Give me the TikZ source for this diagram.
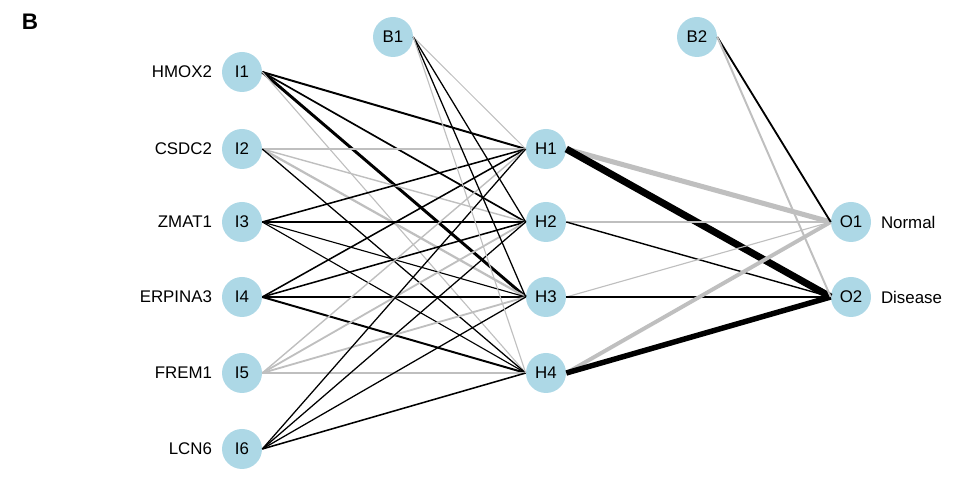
\documentclass[tikz,border=0pt]{standalone}
\usepackage{fontspec}
\setmainfont{Liberation Sans}
\usepackage{tikz}
\definecolor{lightblue}{HTML}{ADD8E6}

\begin{document}
\begin{tikzpicture}[auto]
        \tikzstyle{neuron} = [circle, fill=lightblue, minimum size=1cm, inner sep=0pt, font=\fontsize{12}{14}\selectfont]
        \tikzstyle{plus} = [draw=black]
        \tikzstyle{minus} = [draw=gray!50]
        \tikzstyle{tag} = [font=\fontsize{12}{14}\selectfont, label distance=0.12cm]
        \useasboundingbox (0,0) rectangle (24.05,12.275);
        \node[font=\fontsize{16}{18}\selectfont\bfseries] (title) at (0.75,11.725) {B};
        \node[neuron, label={[tag]left:HMOX2}] (I1) at (6.05,10.475) {I1};
        \node[neuron, label={[tag]left:CSDC2}] (I2) at (6.05,8.55) {I2};
        \node[neuron, label={[tag]left:ZMAT1}] (I3) at (6.05,6.725) {I3};
        \node[neuron, label={[tag]left:ERPINA3}] (I4) at (6.05,4.85) {I4};
        \node[neuron, label={[tag]left:FREM1}] (I5) at (6.05,2.95) {I5};
        \node[neuron, label={[tag]left:LCN6}] (I6) at (6.05,1.05) {I6};
        \node[neuron] (B1) at (9.825,11.35) {B1};
        \node[neuron] (H1) at (13.65,8.55) {H1};
        \node[neuron] (H2) at (13.65,6.725) {H2};
        \node[neuron] (H3) at (13.65,4.85) {H3};
        \node[neuron] (H4) at (13.65,2.95) {H4};
        \node[neuron] (B2) at (17.425,11.35) {B2};
        \node[neuron, label={[tag]right:Normal}] (O1) at (21.275,6.725) {O1};
        \node[neuron, label={[tag]right:Disease}] (O2) at (21.275,4.85) {O2};
        % input to hidden
        \path
        (I1.east) edge[plus, line width=1.4pt] (H1.west)
        (I1.east) edge[plus, line width=1.2pt] (H2.west)
        (I1.east) edge[plus, line width=2.1pt] (H3.west)
        (I1.east) edge[minus, line width=0.8pt] (H4.west)
        (I2.east) edge[minus, line width=1.2pt] (H1.west)
        (I2.east) edge[minus, line width=1.0pt] (H2.west)
        (I2.east) edge[minus, line width=1.6pt] (H3.west)
        (I2.east) edge[plus, line width=0.9pt] (H4.west)
        (I3.east) edge[plus, line width=1.1pt] (H1.west)
        (I3.east) edge[plus, line width=1.1pt] (H2.west)
        (I3.east) edge[plus, line width=0.8pt] (H3.west)
        (I3.east) edge[plus, line width=0.8pt] (H4.west)
        (I4.east) edge[plus, line width=1.1pt] (H1.west)
        (I4.east) edge[plus, line width=1.1pt] (H2.west)
        (I4.east) edge[plus, line width=1.1pt] (H3.west)
        (I4.east) edge[plus, line width=1.4pt] (H4.west)
        (I5.east) edge[minus, line width=1.0pt] (H1.west)
        (I5.east) edge[minus, line width=1.3pt] (H2.west)
        (I5.east) edge[minus, line width=1.3pt] (H3.west)
        (I5.east) edge[minus, line width=1.4pt] (H4.west)
        (I6.east) edge[plus, line width=0.9pt] (H1.west)
        (I6.east) edge[plus, line width=0.9pt] (H2.west)
        (I6.east) edge[plus, line width=0.9pt] (H3.west)
        (I6.east) edge[plus, line width=1.1pt] (H4.west)
        (B1.east) edge[minus, line width=0.7pt] (H1.west)
        (B1.east) edge[plus, line width=0.9pt] (H2.west)
        (B1.east) edge[plus, line width=0.9pt] (H3.west)
        (B1.east) edge[minus, line width=0.8pt] (H4.west);
        % hidden to output
        \path
        (H1.east) edge[minus, line width=3.6pt] (O1.west)
        (H1.east) edge[plus, line width=5pt] (O2.west)
        (H2.east) edge[minus, line width=1.0pt] (O1.west)
        (H2.east) edge[plus, line width=1.0pt] (O2.west)
        (H3.east) edge[minus, line width=0.8pt] (O1.west)
        (H3.east) edge[plus, line width=1.3pt] (O2.west)
        (H4.east) edge[minus, line width=2.8pt] (O1.west)
        (H4.east) edge[plus, line width=3.9pt] (O2.west)
        (B2.east) edge[plus, line width=1.3pt] (O1.west)
        (B2.east) edge[minus, line width=1.4pt] (O2.west);
    \end{tikzpicture}
\end{document}
